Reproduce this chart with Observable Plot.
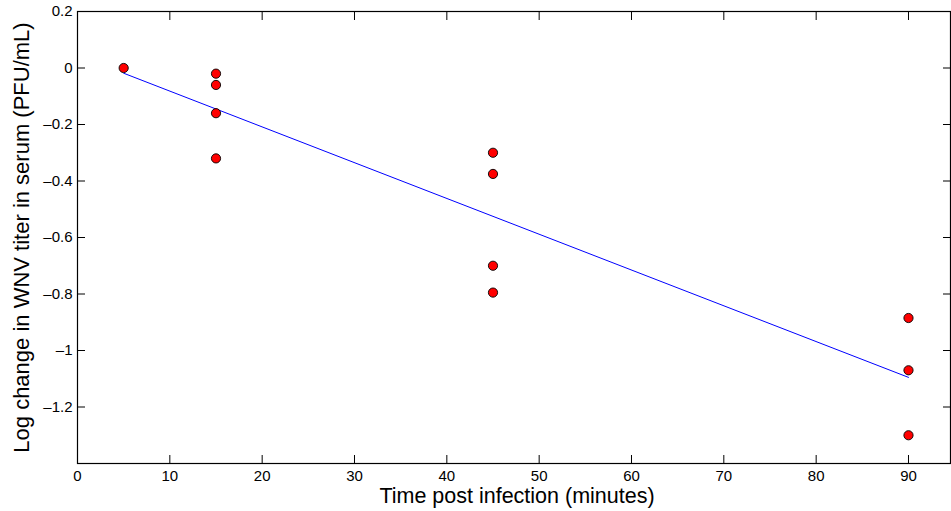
<!DOCTYPE html>
<html>
<head>
<meta charset="utf-8">
<script src="https://cdn.jsdelivr.net/npm/d3@7"></script>
<script src="https://cdn.jsdelivr.net/npm/@observablehq/plot@0.6"></script>
<style>
  html, body { margin: 0; padding: 0; background: #fff; }
  svg { display: block; }
</style>
</head>
<body>
<div id="chart"></div>
<script>
const minutes = [5, 15, 15, 15, 15, 45, 45, 45, 45, 90, 90, 90];
const logChange = [0.0, -0.02, -0.06, -0.16, -0.32, -0.30, -0.375, -0.70, -0.795, -0.885, -1.07, -1.30];
const xTicks = [0, 10, 20, 30, 40, 50, 60, 70, 80, 90];
const yTicks = [0.2, 0, -0.2, -0.4, -0.6, -0.8, -1, -1.2];
const xLabel = "Time post infection (minutes)";
const yLabel = "Log change in WNV titer in serum (PFU/mL)";

const data = minutes.map((m, i) => ({minutes: m, change: logChange[i]}));
const fmt = d => d === 0 ? "0" : String(d).replace("-", "\u2013");

const chart = Plot.plot({
  width: 951,
  height: 511,
  marginLeft: 77,
  marginRight: 1,
  marginTop: 11,
  marginBottom: 48,
  style: {fontFamily: "'Liberation Sans', Arial, sans-serif", fontSize: "15px", color: "black", background: "white"},
  x: {domain: [0, 94.55]},
  y: {domain: [-1.4, 0.2]},
  marks: [
    Plot.frame({stroke: "black", strokeWidth: 1.2}),
    // inward ticks
    Plot.axisX(xTicks, {anchor: "bottom", tickSize: -8, tickFormat: () => "", label: null}),
    Plot.axisX(xTicks, {anchor: "top", tickSize: -8, tickFormat: () => "", label: null}),
    Plot.axisY(yTicks, {anchor: "left", tickSize: -8, tickFormat: () => "", label: null}),
    Plot.axisY(yTicks, {anchor: "right", tickSize: -8, tickFormat: () => "", label: null}),
    // tick labels
    Plot.axisX(xTicks, {anchor: "bottom", tickSize: 0, tickPadding: 7, tickFormat: fmt, label: null, fontSize: 15}),
    Plot.axisY(yTicks, {anchor: "left", tickSize: 0, tickPadding: 5, tickFormat: fmt, label: null, fontSize: 15}),
    Plot.linearRegressionY(data, {x: "minutes", y: "change", ci: 0, stroke: "#0000ff", strokeWidth: 1}),
    Plot.dot(data, {x: "minutes", y: "change", r: 4.6, fill: "#ff0000", stroke: "black", strokeWidth: 0.9}),
    Plot.text([xLabel], {frameAnchor: "bottom", lineAnchor: "middle", textAnchor: "middle", dy: 33, dx: 3, fontSize: 21.5, fill: "black"}),
    Plot.text([yLabel], {frameAnchor: "left", rotate: -90, textAnchor: "middle", lineAnchor: "middle", dx: -56, dy: 0, fontSize: 22, fill: "black"})
  ]
});
document.getElementById("chart").appendChild(chart);
</script>
</body>
</html>
